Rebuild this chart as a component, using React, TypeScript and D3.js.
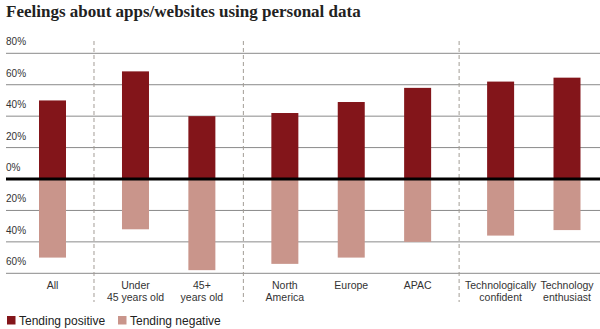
import React from "react";
import * as d3 from "d3";

const categories = [
  ["All"],
  ["Under", "45 years old"],
  ["45+", "years old"],
  ["North", "America"],
  ["Europe"],
  ["APAC"],
  ["Technologically", "confident"],
  ["Technology", "enthusiast"],
];
const groups = [0, 1, 1, 2, 2, 2, 3, 3];
const positive = [50, 68.5, 40, 42, 49, 58, 62, 64.5];
const negative = [50, 32, 58, 54, 50, 40, 36, 32.5];
const yTicks = [80, 60, 40, 20, 0, -20, -40, -60];
const title = "Feelings about apps/websites using personal data";
const legendItems = ["Tending positive", "Tending negative"];

const W = 600;
const H = 329;
const POS = "#83151a";
const NEG = "#c9958b";
const SANS = "'Liberation Sans', Arial, Helvetica, sans-serif";

export default function App() {
  const slots = categories.map((_, i) => i + 0.25 * groups[i]);
  const x = d3.scaleLinear().domain([0, 7.75]).range([52.5, 567]);
  const y = d3.scaleLinear().domain([-60, 80]).range([273.3, 53.3]);
  const barW = 27;
  const sepSlots = d3.range(1, 4).map((g) => {
    const a = slots[groups.lastIndexOf(g - 1)];
    const b = slots[groups.indexOf(g)];
    return (a + b) / 2;
  });

  return (
    <svg width={W} height={H} style={{ position: "absolute", left: 0, top: 0, background: "#fff" }}>
      <text x={6} y={17} fontFamily="'Liberation Serif', 'DejaVu Serif', serif" fontWeight="bold" fontSize={17} fill="#222">
        {title}
      </text>
      {yTicks.map((t) => (
        <g key={t}>
          {t !== 0 && (
            <line x1={6} x2={W} y1={y(t)} y2={y(t)} stroke="#8a8a8a" strokeWidth={1} />
          )}
          <text x={6} y={y(t) - 8} fontFamily={SANS} fontSize={10} fill="#333">
            {Math.abs(t)}%
          </text>
        </g>
      ))}
      {sepSlots.map((s, i) => (
        <line key={i} x1={x(s)} x2={x(s)} y1={41} y2={302} stroke="#a39d96" strokeWidth={1} strokeDasharray="4,3" />
      ))}
      {positive.map((v, i) => (
        <rect key={"p" + i} x={x(slots[i]) - barW / 2} width={barW} y={y(v)} height={y(0) - y(v)} fill={POS} />
      ))}
      {negative.map((v, i) => (
        <rect key={"n" + i} x={x(slots[i]) - barW / 2} width={barW} y={y(0)} height={y(-v) - y(0)} fill={NEG} />
      ))}
      <line x1={6} x2={W} y1={y(0)} y2={y(0)} stroke="#000" strokeWidth={3} />
      {categories.map((lines, i) => (
        <text key={"c" + i} x={x(slots[i])} textAnchor="middle" fontFamily={SANS} fontSize={10.5} fill="#333">
          {lines.map((l, j) => (
            <tspan key={j} x={x(slots[i])} y={289 + j * 11.5}>
              {l}
            </tspan>
          ))}
        </text>
      ))}
      {legendItems.map((l, i) => {
        const lx = i === 0 ? 7 : 118;
        return (
          <g key={l}>
            <rect x={lx} y={316} width={8.5} height={8.5} fill={i === 0 ? POS : NEG} />
            <text x={lx + 12} y={324.5} fontFamily={SANS} fontSize={12} fill="#222">
              {l}
            </text>
          </g>
        );
      })}
    </svg>
  );
}
